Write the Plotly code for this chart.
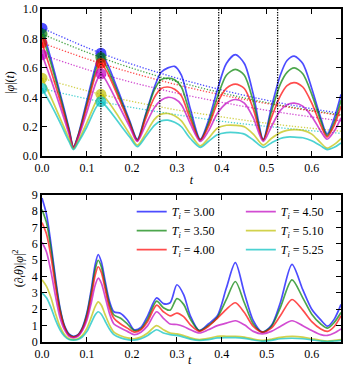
import plotly.graph_objects as go

LABELS = ["3.00", "3.50", "4.00", "4.50", "5.10", "5.25"]
COLORS = ["rgba(0,0,255,0.7)", "rgba(0,128,0,0.7)", "rgba(255,0,0,0.7)",
          "rgba(191,0,191,0.7)", "rgba(191,191,0,0.7)", "rgba(0,191,191,0.7)"]

# ---------- top panel: |phi|(t) ----------
T1 = [0.0, 0.02, 0.04, 0.06, 0.07, 0.08, 0.10, 0.12, 0.131, 0.145, 0.17, 0.195, 0.212,
      0.23, 0.25, 0.265, 0.28, 0.295, 0.31, 0.33, 0.352, 0.37, 0.39, 0.41, 0.43, 0.45,
      0.47, 0.492, 0.51, 0.53, 0.545, 0.561, 0.58, 0.60, 0.62, 0.634, 0.65, 0.665]
PHI_300 = [0.87, 0.66, 0.43, 0.19, 0.065, 0.14, 0.38, 0.62, 0.70, 0.63, 0.44, 0.24, 0.115,
           0.28, 0.47, 0.57, 0.60, 0.61, 0.55, 0.32, 0.115, 0.24, 0.45, 0.63, 0.69, 0.63,
           0.42, 0.115, 0.33, 0.55, 0.65, 0.68, 0.63, 0.46, 0.26, 0.15, 0.26, 0.42]
PHI_350 = [0.83, 0.63, 0.41, 0.18, 0.06, 0.135, 0.36, 0.59, 0.67, 0.60, 0.42, 0.23, 0.11,
           0.27, 0.45, 0.52, 0.53, 0.52, 0.47, 0.28, 0.11, 0.22, 0.40, 0.55, 0.59, 0.55,
           0.37, 0.11, 0.30, 0.49, 0.57, 0.60, 0.56, 0.42, 0.24, 0.14, 0.23, 0.38]
PHI_400 = [0.77, 0.58, 0.38, 0.17, 0.058, 0.13, 0.34, 0.56, 0.63, 0.57, 0.40, 0.22, 0.105,
           0.25, 0.40, 0.46, 0.47, 0.455, 0.41, 0.25, 0.11, 0.20, 0.36, 0.46, 0.49, 0.46,
           0.32, 0.11, 0.26, 0.41, 0.48, 0.50, 0.47, 0.36, 0.21, 0.13, 0.21, 0.34]
PHI_450 = [0.69, 0.52, 0.34, 0.15, 0.055, 0.12, 0.30, 0.50, 0.56, 0.50, 0.35, 0.20, 0.10,
           0.21, 0.33, 0.38, 0.40, 0.39, 0.35, 0.22, 0.10, 0.17, 0.29, 0.36, 0.385, 0.36,
           0.26, 0.10, 0.20, 0.31, 0.35, 0.36, 0.34, 0.27, 0.17, 0.115, 0.17, 0.26]
PHI_510 = [0.53, 0.40, 0.26, 0.12, 0.05, 0.10, 0.23, 0.37, 0.42, 0.38, 0.27, 0.15, 0.075,
           0.15, 0.25, 0.285, 0.29, 0.275, 0.24, 0.15, 0.07, 0.12, 0.19, 0.21, 0.21, 0.20,
           0.15, 0.075, 0.12, 0.16, 0.175, 0.18, 0.175, 0.15, 0.09, 0.055, 0.08, 0.12]
PHI_525 = [0.46, 0.35, 0.23, 0.10, 0.045, 0.09, 0.20, 0.33, 0.37, 0.33, 0.23, 0.13, 0.065,
           0.13, 0.21, 0.24, 0.245, 0.23, 0.20, 0.12, 0.06, 0.10, 0.145, 0.16, 0.16, 0.15,
           0.11, 0.06, 0.09, 0.12, 0.13, 0.13, 0.125, 0.105, 0.07, 0.045, 0.06, 0.09]
PHI = [PHI_300, PHI_350, PHI_400, PHI_450, PHI_510, PHI_525]

# marker points (t=0 and first revival)
MARK_T = [0.0, 0.131]
MARK_V = [[0.87, 0.70], [0.83, 0.67], [0.77, 0.63], [0.69, 0.56], [0.53, 0.42], [0.46, 0.37]]

# dotted decay envelopes
ENV_T = [0.0, 0.131, 0.262, 0.393, 0.524, 0.665]
ENV_V = [[0.87, 0.70, 0.565, 0.455, 0.365, 0.29],
         [0.83, 0.67, 0.54, 0.435, 0.35, 0.28],
         [0.77, 0.63, 0.515, 0.42, 0.345, 0.275],
         [0.69, 0.56, 0.455, 0.37, 0.30, 0.24],
         [0.53, 0.42, 0.335, 0.27, 0.215, 0.17],
         [0.46, 0.37, 0.30, 0.24, 0.195, 0.155]]

VLINES = [0.131, 0.262, 0.393, 0.524]

# ---------- bottom panel: (d_t theta)|phi|^2 ----------
T2 = [0, 0.01, 0.02, 0.03, 0.04, 0.05, 0.06, 0.07, 0.08, 0.09, 0.10, 0.11, 0.118, 0.125,
      0.132, 0.14, 0.15, 0.16, 0.175, 0.19, 0.205, 0.22, 0.235, 0.255, 0.27, 0.285, 0.30,
      0.315, 0.33, 0.35, 0.37, 0.39, 0.41, 0.43, 0.45, 0.47, 0.49, 0.51, 0.53, 0.556,
      0.58, 0.60, 0.62, 0.635, 0.65, 0.665]
D_300 = [8.8, 7.8, 6.0, 3.9, 2.1, 1.0, 0.5, 0.35, 0.45, 0.9, 1.8, 3.3, 4.7, 5.35,
         4.9, 3.8, 2.5, 1.85, 1.75, 1.35, 0.75, 0.9, 1.6, 2.7, 2.35, 2.4, 3.5,
         2.9, 1.6, 0.7, 1.1, 1.6, 3.3, 4.85, 3.0, 1.3, 0.6, 1.0, 2.4, 4.75,
         3.2, 2.0, 1.35, 0.97, 1.4, 2.3]
D_350 = [8.1, 7.3, 5.7, 3.7, 2.0, 0.95, 0.45, 0.32, 0.42, 0.85, 1.7, 3.1, 4.4, 5.0,
         4.6, 3.55, 2.3, 1.65, 1.45, 1.1, 0.7, 0.8, 1.4, 2.5, 2.1, 1.95, 2.65,
         2.3, 1.4, 0.7, 1.0, 1.5, 2.6, 3.7, 2.4, 1.1, 0.6, 0.95, 2.1, 3.8,
         2.7, 1.7, 1.1, 0.85, 1.2, 1.8]
D_400 = [7.3, 6.6, 5.2, 3.4, 1.85, 0.9, 0.42, 0.3, 0.4, 0.8, 1.55, 2.85, 4.05, 4.6,
         4.25, 3.3, 2.1, 1.45, 1.1, 0.85, 0.6, 0.75, 1.25, 2.25, 1.85, 1.6, 1.77,
         1.55, 1.05, 0.65, 0.95, 1.45, 2.0, 2.4, 1.8, 0.95, 0.6, 0.85, 1.6, 2.6,
         1.95, 1.25, 0.8, 0.65, 0.95, 1.6]
D_450 = [6.1, 5.5, 4.3, 2.8, 1.5, 0.75, 0.35, 0.25, 0.35, 0.7, 1.35, 2.45, 3.45, 3.9,
         3.6, 2.8, 1.75, 1.1, 0.85, 0.65, 0.45, 0.6, 1.0, 1.85, 1.45, 1.1, 1.07,
         0.95, 0.75, 0.55, 0.75, 1.0, 1.15, 1.3, 1.05, 0.65, 0.5, 0.65, 0.95, 1.3,
         1.0, 0.7, 0.45, 0.4, 0.55, 0.8]
D_510 = [3.8, 3.4, 2.7, 1.75, 0.95, 0.45, 0.2, 0.15, 0.2, 0.42, 0.85, 1.55, 2.15, 2.45,
         2.25, 1.7, 1.05, 0.6, 0.38, 0.25, 0.2, 0.3, 0.55, 1.0, 0.75, 0.55, 0.5,
         0.4, 0.25, 0.15, 0.22, 0.35, 0.35, 0.35, 0.3, 0.18, 0.1, 0.17, 0.28, 0.34,
         0.3, 0.2, 0.1, 0.06, 0.1, 0.15]
D_525 = [3.0, 2.7, 2.1, 1.35, 0.75, 0.35, 0.15, 0.12, 0.15, 0.32, 0.65, 1.2, 1.65, 1.85,
         1.7, 1.3, 0.8, 0.45, 0.25, 0.15, 0.12, 0.2, 0.4, 0.75, 0.55, 0.45, 0.4,
         0.3, 0.18, 0.1, 0.15, 0.25, 0.27, 0.27, 0.22, 0.12, 0.05, 0.1, 0.2, 0.23,
         0.2, 0.13, 0.06, 0.03, 0.06, 0.1]
DTH = [D_300, D_350, D_400, D_450, D_510, D_525]

FONT = "Liberation Serif"
fig = go.Figure()

for k in range(6):
    fig.add_trace(go.Scatter(x=ENV_T, y=ENV_V[k], mode="lines",
                             line=dict(color=COLORS[k], width=1.3, dash="1.3px,1.7px", shape="spline"),
                             xaxis="x", yaxis="y", showlegend=False, hoverinfo="skip"))
for k in range(6):
    fig.add_trace(go.Scatter(x=T1, y=PHI[k], mode="lines", line=dict(color=COLORS[k], width=1.7, shape="spline", smoothing=0.8),
                             xaxis="x", yaxis="y", showlegend=False))
for k in range(6):
    fig.add_trace(go.Scatter(x=MARK_T, y=MARK_V[k], mode="markers", marker=dict(color=COLORS[k], size=11, line=dict(width=0)),
                             xaxis="x", yaxis="y", showlegend=False))
for t in VLINES:
    fig.add_trace(go.Scatter(x=[t, t], y=[0, 1], mode="lines", line=dict(color="black", width=1.3, dash="1.3px,1.3px"),
                             xaxis="x", yaxis="y", showlegend=False, hoverinfo="skip"))

for k in range(6):
    fig.add_trace(go.Scatter(x=T2, y=DTH[k], mode="lines", line=dict(color=COLORS[k], width=1.7, shape="spline", smoothing=0.8),
                             xaxis="x2", yaxis="y2", name="<i>T</i><sub><i>i</i></sub> = " + LABELS[k],
                             legend="legend" if k < 3 else "legend2"))

axcommon = dict(showline=True, linecolor="black", linewidth=1.5, mirror="ticks", ticks="inside",
                ticklen=5, tickwidth=1, tickcolor="black", showgrid=False, zeroline=False,
                tickfont=dict(family=FONT, size=12, color="black"))

fig.update_layout(
    width=345, height=366, margin=dict(l=42, r=2, t=5, b=24),
    plot_bgcolor="white", paper_bgcolor="white",
    font=dict(family=FONT, size=12, color="black"),
    xaxis=dict(domain=[0, 1], anchor="y", range=[0, 0.665], dtick=0.1, tickformat=".1f",
               title=dict(text="<i>t</i>", standoff=1, font=dict(family=FONT, size=12)), **axcommon),
    yaxis=dict(domain=[0.558, 1], anchor="x", range=[0, 1], dtick=0.2, tickformat=".1f",
               title=dict(text="|<i>φ</i>|(<i>t</i>)", standoff=6, font=dict(family=FONT, size=12)), **axcommon),
    xaxis2=dict(domain=[0, 1], anchor="y2", range=[0, 0.665], dtick=0.1, tickformat=".1f", **axcommon),
    yaxis2=dict(domain=[0, 0.442], anchor="x2", range=[0, 9], dtick=1,
                title=dict(text="(∂<sub><i>t</i></sub><i>θ</i>)|<i>φ</i>|<sup>2</sup>", standoff=6,
                           font=dict(family=FONT, size=12)), **axcommon),
    legend=dict(x=0.30, y=0.435, xanchor="left", yanchor="top", bgcolor="rgba(0,0,0,0)",
                font=dict(family=FONT, size=12), tracegroupgap=0),
    legend2=dict(x=0.665, y=0.435, xanchor="left", yanchor="top", bgcolor="rgba(0,0,0,0)",
                 font=dict(family=FONT, size=12), tracegroupgap=0),
    annotations=[dict(text="<i>t</i>", xref="paper", yref="paper", x=0.495, y=-0.031,
                      xanchor="center", yanchor="top", showarrow=False, borderpad=0,
                      font=dict(family=FONT, size=12, color="black"))],
)

fig.write_html("out.html")
